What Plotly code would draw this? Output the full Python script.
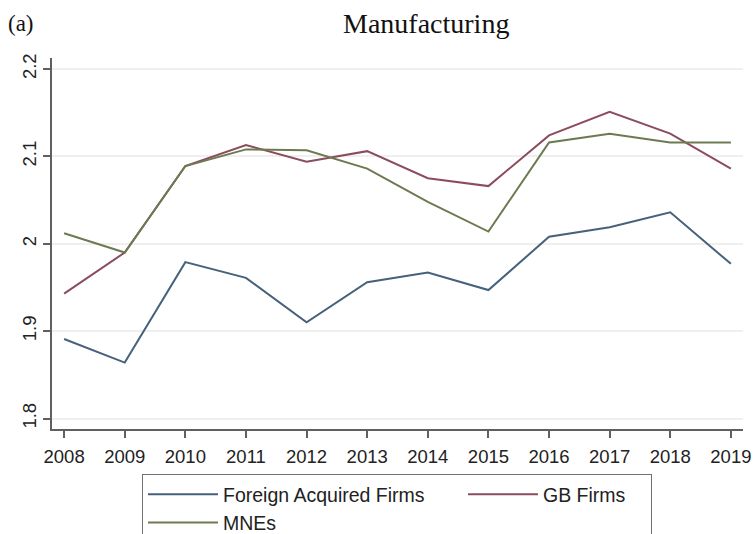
import plotly.graph_objects as go

years = [2008, 2009, 2010, 2011, 2012, 2013, 2014, 2015, 2016, 2017, 2018, 2019]
foreign_acquired = [1.891, 1.864, 1.979, 1.961, 1.910, 1.956, 1.967, 1.947, 2.008, 2.019, 2.036, 1.977]
gb_firms = [1.943, 1.990, 2.089, 2.113, 2.094, 2.106, 2.075, 2.066, 2.124, 2.151, 2.126, 2.086]
mnes = [2.012, 1.990, 2.089, 2.108, 2.107, 2.086, 2.048, 2.014, 2.116, 2.126, 2.116, 2.116]
y_ticks = [1.8, 1.9, 2.0, 2.1, 2.2]
y_tick_labels = ["1.8", "1.9", "2", "2.1", "2.2"]

# (name, values, colour, legend entry text width in px)
series = [
    ("Foreign Acquired Firms", foreign_acquired, "#46617c", 235),
    ("GB Firms", gb_firms, "#8b4d5d", 103),
    ("MNEs", mnes, "#6c7a51", 235),
]

W, H = 754, 534
M_L, M_R, M_T, M_B = 52, 11, 58, 105
plot_w = W - M_L - M_R
plot_h = H - M_T - M_B


def px_x(x):
    return (x - M_L) / plot_w


def px_y(y):
    return (H - M_B - y) / plot_h


fig = go.Figure()
for name, vals, color, lw in series:
    fig.add_trace(go.Scatter(
        x=years, y=vals, mode="lines", name=name,
        line=dict(color=color, width=2), legendwidth=lw,
    ))

serif = "Liberation Serif, Times New Roman, serif"
fig.update_layout(
    width=W, height=H,
    margin=dict(l=M_L, r=M_R, t=M_T, b=M_B, autoexpand=False),
    paper_bgcolor="white", plot_bgcolor="white",
    font=dict(family="Liberation Sans, Arial, sans-serif", size=18, color="#222222"),
    showlegend=True,
    legend=dict(
        orientation="h",
        x=px_x(397), xanchor="center",
        y=px_y(474), yanchor="top",
        bordercolor="#707070", borderwidth=1,
        bgcolor="white",
        itemwidth=70,
        font=dict(size=19.5, color="#222222"),
        traceorder="normal",
    ),
    annotations=[
        dict(text="Manufacturing", x=px_x(425.5), y=px_y(24), xref="paper", yref="paper",
             xanchor="center", yanchor="middle", showarrow=False,
             font=dict(family=serif, size=28, color="#111111")),
        dict(text="(a)", x=px_x(6), y=px_y(24), xref="paper", yref="paper",
             xanchor="left", yanchor="middle", showarrow=False,
             font=dict(family=serif, size=23, color="#111111")),
    ],
)

fig.update_xaxes(
    range=[2007.8, 2019.2],
    tickmode="array", tickvals=years, ticktext=[str(y) for y in years],
    ticks="outside", ticklen=7, tickcolor="#606060", tickwidth=1.5,
    ticklabelstandoff=3,
    showline=True, linecolor="#606060", linewidth=1.5,
    showgrid=False, zeroline=False,
    tickfont=dict(size=18.5),
)
fig.update_yaxes(
    range=[1.788, 2.2126],
    tickmode="array", tickvals=y_ticks, ticktext=y_tick_labels,
    tickangle=-90,
    ticks="outside", ticklen=7, tickcolor="#606060", tickwidth=1.5,
    showline=True, linecolor="#606060", linewidth=1.5,
    showgrid=True, gridcolor="#efefef", gridwidth=1.5,
    zeroline=False,
    tickfont=dict(size=18.5),
)

fig.write_html("out.html")
